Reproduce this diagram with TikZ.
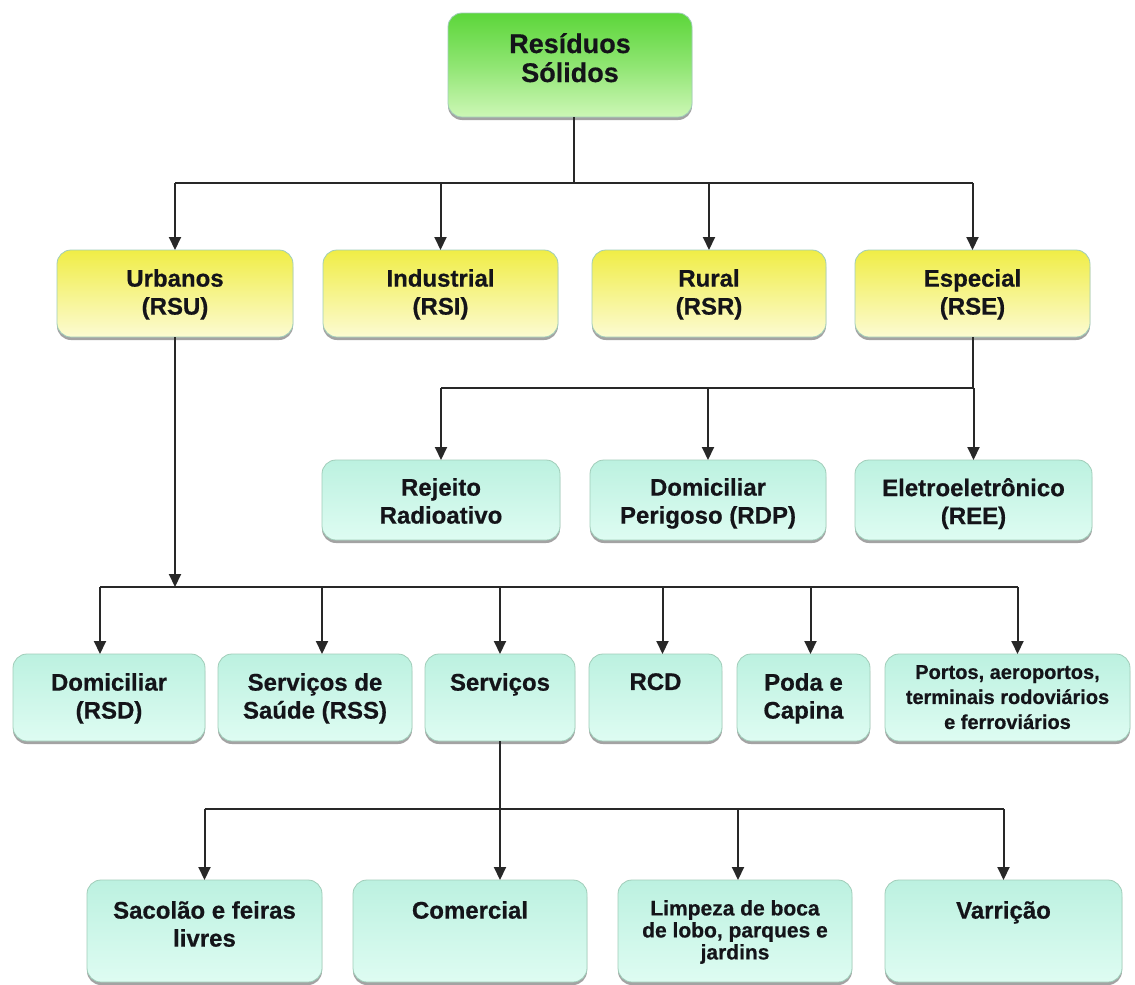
\documentclass[tikz,border=0pt]{standalone}
\usepackage{fontspec}
\setmainfont{Liberation Sans}[BoldFeatures={FakeBold=0.6}]
\usetikzlibrary{arrows.meta,shadows,calc}
\definecolor{gT}{RGB}{92,214,58}
\definecolor{gB}{RGB}{205,247,182}
\definecolor{yT}{RGB}{240,237,70}
\definecolor{yB}{RGB}{252,251,210}
\definecolor{mT}{RGB}{188,241,224}
\definecolor{mB}{RGB}{222,252,242}
\definecolor{bord}{RGB}{160,205,185}
\definecolor{lineC}{RGB}{40,40,40}
\definecolor{txtC}{RGB}{20,20,25}
\tikzset{
  basebox/.style={rounded corners=14pt, draw=bord, line width=0.8pt, inner sep=0pt, outer sep=0pt,
    drop shadow={shadow xshift=0pt, shadow yshift=-3pt, fill=black!60, opacity=0.6}},
  gbox/.style={basebox, top color=gT, bottom color=gB, middle color=gT!55!gB},
  ybox/.style={basebox, top color=yT, bottom color=yB, middle color=yT!50!yB},
  mbox/.style={basebox, top color=mT, bottom color=mB},
  lblbig/.style={inner sep=0pt, align=center, text=txtC, font=\fontsize{27}{29}\selectfont\bfseries},
  lbl/.style={inner sep=0pt, align=center, text=txtC, font=\fontsize{24}{28}\selectfont\bfseries},
  lblsm/.style={inner sep=0pt, align=center, text=txtC, font=\fontsize{20}{25}\selectfont\bfseries},
  lblxs/.style={inner sep=0pt, align=center, text=txtC, font=\fontsize{21}{22}\selectfont\bfseries},
  conn/.style={draw=lineC, line width=2pt},
  arr/.style={conn, -{Triangle[width=12pt,length=13pt]}},
}
\newcommand\rbox[6]{\node[#2, minimum width={#5-#3}, minimum height={#6-#4}, anchor=north west] (#1) at (#3,#4) {};}
\newcommand\rtxt[4]{\node[#2, anchor=north] (#1t) at ($(#1.north)+(0,#3)$) {#4};}
\begin{document}
\begin{tikzpicture}[x=1pt,y=-1pt]
\useasboundingbox[fill=white] (0,0) rectangle (1135,985);
% level 1
\rbox{top}{gbox}{448}{13}{692}{117}
% level 2
\rbox{urb}{ybox}{57}{250}{293}{337}
\rbox{ind}{ybox}{323}{250}{558}{337}
\rbox{rur}{ybox}{592}{250}{826}{337}
\rbox{esp}{ybox}{855}{250}{1090}{337}
% level 3
\rbox{rej}{mbox}{322}{460}{560}{540}
\rbox{dpe}{mbox}{590}{460}{826}{540}
\rbox{ele}{mbox}{855}{460}{1092}{540}
% level 4
\rbox{dom}{mbox}{13}{654}{205}{741}
\rbox{sau}{mbox}{218}{654}{412}{741}
\rbox{ser}{mbox}{425}{654}{575}{741}
\rbox{rcd}{mbox}{589}{654}{722}{741}
\rbox{pod}{mbox}{737}{654}{870}{741}
\rbox{por}{mbox}{885}{654}{1130}{741}
% level 5
\rbox{sac}{mbox}{87}{880}{322}{982}
\rbox{com}{mbox}{353}{880}{587}{982}
\rbox{lim}{mbox}{618}{880}{852}{982}
\rbox{var}{mbox}{885}{880}{1122}{982}
% texts
\rtxt{top}{lblbig}{20}{Resíduos\\Sólidos}
\rtxt{urb}{lbl}{19}{Urbanos\\(RSU)}
\rtxt{ind}{lbl}{19}{Industrial\\(RSI)}
\rtxt{rur}{lbl}{19}{Rural\\(RSR)}
\rtxt{esp}{lbl}{19}{Especial\\(RSE)}
\rtxt{rej}{lbl}{18}{Rejeito\\Radioativo}
\rtxt{dpe}{lbl}{18}{Domiciliar\\Perigoso (RDP)}
\rtxt{ele}{lbl}{18}{Eletroeletrônico\\(REE)}
\rtxt{dom}{lbl}{19}{Domiciliar\\(RSD)}
\rtxt{sau}{lbl}{19}{Serviços de\\Saúde (RSS)}
\rtxt{ser}{lbl}{19}{Serviços}
\rtxt{rcd}{lbl}{19}{RCD}
\rtxt{pod}{lbl}{19}{Poda e\\Capina}
\rtxt{por}{lblsm}{11}{Portos, aeroportos,\\terminais rodoviários\\e ferroviários}
\rtxt{sac}{lbl}{21}{Sacolão e feiras\\livres}
\rtxt{com}{lbl}{21}{Comercial}
\rtxt{lim}{lblxs}{20}{Limpeza de boca\\de lobo, parques e\\jardins}
\rtxt{var}{lbl}{21}{Varrição}
% connectors: level 1 -> 2
\draw[conn] ([xshift=4pt]top.south) -- ++(0,66) coordinate (j1);
\draw[conn] (j1 -| urb.north) -- (j1 -| esp.north);
\foreach \n in {urb,ind,rur,esp} \draw[arr] (j1 -| \n.north) -- (\n.north);
% especial -> level 3
\draw[conn] (esp.south) -- ++(0,51) coordinate (j2);
\draw[conn] (j2 -| rej.north) -- (j2);
\foreach \n in {rej,dpe,ele} \draw[arr] (j2 -| \n.north) -- (\n.north);
% urbanos -> level 4
\coordinate (j3) at ($(urb.south)+(0,250)$);
\draw[arr] (urb.south) -- (j3);
\draw[conn] ([xshift=-9pt]dom.north |- j3) -- ([xshift=10pt]por.north |- j3);
\draw[arr] ([xshift=-9pt]dom.north |- j3) -- ([xshift=-9pt]dom.north);
\draw[arr] ([xshift=7pt]sau.north |- j3) -- ([xshift=7pt]sau.north);
\draw[arr] (ser.north |- j3) -- (ser.north);
\draw[arr] ([xshift=7pt]rcd.north |- j3) -- ([xshift=7pt]rcd.north);
\draw[arr] ([xshift=7pt]pod.north |- j3) -- ([xshift=7pt]pod.north);
\draw[arr] ([xshift=10pt]por.north |- j3) -- ([xshift=10pt]por.north);
% servicos -> level 5
\coordinate (j4) at ($(ser.south)+(0,68)$);
\draw[conn] (sac.north |- j4) -- (var.north |- j4);
\draw[arr] (ser.south) -- (ser.south |- com.north);
\draw[arr] (sac.north |- j4) -- (sac.north);
\draw[arr] ([xshift=3pt]lim.north |- j4) -- ([xshift=3pt]lim.north);
\draw[arr] (var.north |- j4) -- (var.north);
\end{tikzpicture}
\end{document}
